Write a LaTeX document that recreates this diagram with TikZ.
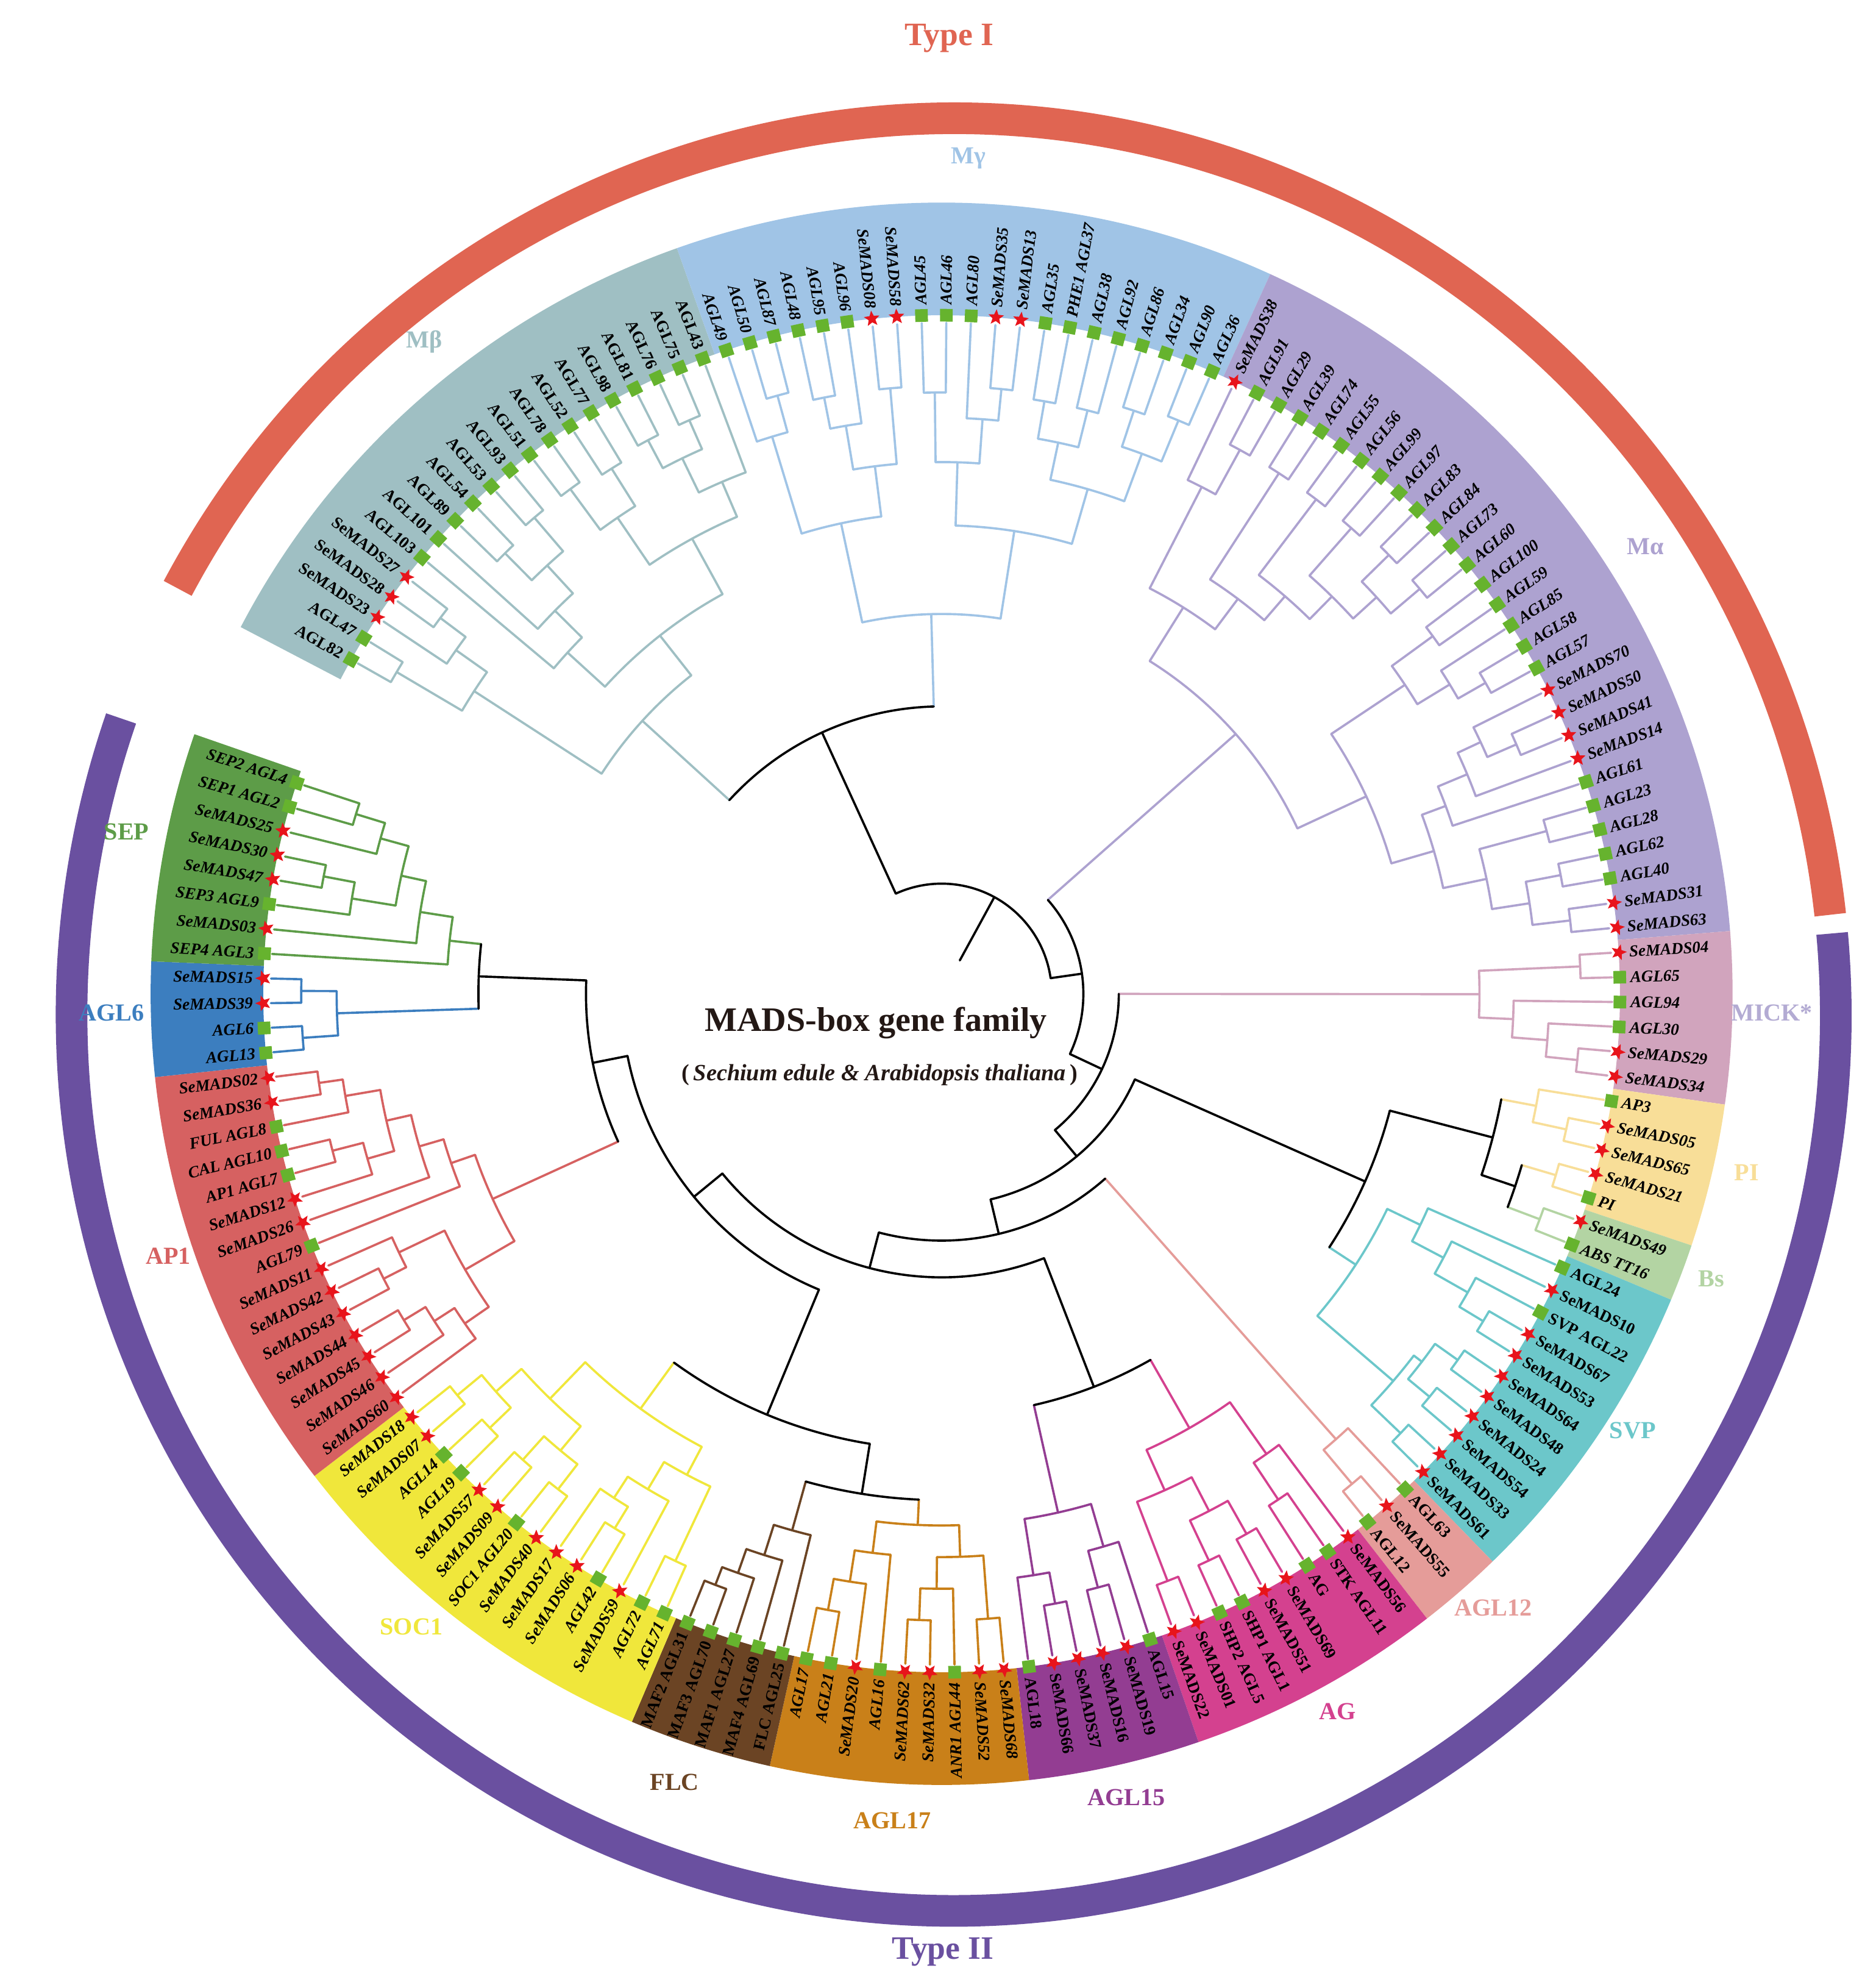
\documentclass[tikz,border=0pt]{standalone}
\usepackage{fontspec}
\setmainfont{Liberation Serif}
\usetikzlibrary{shapes.geometric}

% group colours
\definecolor{cMb}{HTML}{9FBFC3}
\definecolor{cMg}{HTML}{A0C4E6}
\definecolor{cMa}{HTML}{ADA2D0}
\definecolor{cMick}{HTML}{D1A4BD}
\definecolor{cPI}{HTML}{F8DE98}
\definecolor{cBs}{HTML}{B3D4A3}
\definecolor{cSVP}{HTML}{6CC7CA}
\definecolor{cAGLt}{HTML}{E59C99}
\definecolor{cAG}{HTML}{D4418F}
\definecolor{cAGLf}{HTML}{933D92}
\definecolor{cAGLs}{HTML}{C98019}
\definecolor{cFLC}{HTML}{6B4424}
\definecolor{cSOC}{HTML}{F0E73B}
\definecolor{cAP}{HTML}{D66161}
\definecolor{cAGLx}{HTML}{3C7EBF}
\definecolor{cSEP}{HTML}{5D9C48}
\definecolor{cMickT}{HTML}{B3ABD3}
\definecolor{typeone}{HTML}{E06552}
\definecolor{typetwo}{HTML}{6A50A0}
\definecolor{mkgreen}{HTML}{66B32E}
\definecolor{mkred}{HTML}{E8141B}
\definecolor{titlecol}{HTML}{231815}

\newcommand\ux{0.02cm}

\tikzset{
  branch/.style={line width=1pt, line cap=round},
  lab/.style={inner sep=0pt, font=\fontsize{7.4}{8}\selectfont\bfseries},
  sqmark/.style={rectangle, fill=mkgreen, minimum size=0.2cm, inner sep=0pt},
  starmark/.style={star, star points=5, star point ratio=2.3, fill=mkred, minimum size=0.26cm, inner sep=0pt},
  grouplab/.style={font=\fontsize{11}{12}\selectfont\bfseries},
  typelab/.style={font=\fontsize{14.7}{16}\selectfont\bfseries},
  typearc/.style={line width=0.5cm}
}

% leaf: index, label, marker (s = square, t = star)
\newcommand\leaf[3]{%
  \pgfmathsetmacro\la{150.5-2.1*#1}%
  \expandafter\xdef\csname tp@#1\endcsname{#1}%
  \expandafter\xdef\csname tr@#1\endcsname{530}%
  \expandafter\xdef\csname tc@#1\endcsname{\gc}%
  \if#3s\node[sqmark, rotate=\la] (lf#1) at (\la:536) {};%
  \else\node[starmark, rotate=\la-90] (lf#1) at (\la:536) {};\fi
  \ifnum#1<28 \node[lab, anchor=east, rotate=\la+180] at (\la:544) {\gf #2};%
  \else\ifnum#1>113 \node[lab, anchor=east, rotate=\la+180] at (\la:544) {\gf #2};%
  \else\node[lab, anchor=west, rotate=\la] at (\la:544) {\gf #2};\fi\fi}

% inner node: name, child a, child b, radius, colour
\newcommand\nd[5]{%
  \edef\ndpa{\csname tp@#2\endcsname}\edef\ndpb{\csname tp@#3\endcsname}%
  \edef\ndra{\csname tr@#2\endcsname}\edef\ndrb{\csname tr@#3\endcsname}%
  \edef\ndca{\csname tc@#2\endcsname}\edef\ndcb{\csname tc@#3\endcsname}%
  \pgfmathsetmacro\nda{150.5-2.1*\ndpa}%
  \pgfmathsetmacro\ndb{150.5-2.1*\ndpb}%
  \pgfmathsetmacro\ndp{(\ndpa+\ndpb)/2}%
  \draw[branch,\ndca] (\nda:#4) -- (\nda:\ndra);
  \draw[branch,\ndcb] (\ndb:#4) -- (\ndb:\ndrb);
  \draw[branch,#5] (\nda:#4) arc[start angle=\nda, end angle=\ndb, radius=#4*\ux];
  \expandafter\xdef\csname tp@#1\endcsname{\ndp}%
  \expandafter\xdef\csname tr@#1\endcsname{#4}%
  \expandafter\xdef\csname tc@#1\endcsname{#5}}

% coloured sector behind the labels
\newcommand\band[3]{%
  \pgfmathsetmacro\bda{150.5-2.1*(#1-0.5)}%
  \pgfmathsetmacro\bdb{150.5-2.1*(#2+0.5)}%
  \fill[#3] (\bda:536) arc[start angle=\bda, end angle=\bdb, radius=536*\ux]
    -- (\bdb:625) arc[start angle=\bdb, end angle=\bda, radius=625*\ux] -- cycle;}

\begin{document}
\begin{tikzpicture}[x=\ux, y=\ux]
\fill[white] (-744,-783) rectangle (738,785);
\useasboundingbox (-744,-783) rectangle (738,785);

% outer type arcs
\begin{scope}[shift={(9.5,-16.5)}]
  \draw[typearc, typeone] (151.6:697 and 708) arc[start angle=151.6, end angle=6.4, x radius=697*\ux, y radius=708*\ux];
  \draw[typearc, typetwo] (5.2:697 and 708) arc[start angle=5.2, end angle=-199.3, x radius=697*\ux, y radius=708*\ux];
\end{scope}
\node[typelab, text=typeone] (typeI) at (6,755) {Type I};
\node[typelab, text=typetwo] (typeII) at (1,-757) {Type II};

% sectors
\band{-0.4}{19}{cMb}
\band{20}{40}{cMg}
\band{41}{69}{cMa}
\band{70}{75}{cMick}
\band{76}{80}{cPI}
\band{81}{82}{cBs}
\band{83}{93}{cSVP}
\band{94}{96}{cAGLt}
\band{97}{105}{cAG}
\band{106}{111}{cAGLf}
\band{112}{120}{cAGLs}
\band{121}{125}{cFLC}
\band{126}{139}{cSOC}
\band{140}{154}{cAP}
\band{155}{158}{cAGLx}
\band{159}{166}{cSEP}

% leaves
\def\gc{cMb}\def\gf{\upshape}
\foreach \lab/\mk [count=\k from 0] in {AGL82/s,AGL47/s,SeMADS23/t,SeMADS28/t,SeMADS27/t,AGL103/s,AGL101/s,AGL89/s,AGL54/s,AGL53/s,AGL93/s,AGL51/s,AGL78/s,AGL52/s,AGL77/s,AGL98/s,AGL81/s,AGL76/s,AGL75/s,AGL43/s}{\leaf{\k}{\lab}{\mk}}
\def\gc{cMg}\def\gf{\itshape}
\foreach \lab/\mk [count=\k from 20] in {AGL49/s,AGL50/s,AGL87/s,AGL48/s,AGL95/s,AGL96/s,SeMADS08/t,SeMADS58/t,AGL45/s,AGL46/s,AGL80/s,SeMADS35/t,SeMADS13/t,AGL35/s,PHE1 AGL37/s,AGL38/s,AGL92/s,AGL86/s,AGL34/s,AGL90/s,AGL36/s}{\leaf{\k}{\lab}{\mk}}
\def\gc{cMa}
\foreach \lab/\mk [count=\k from 41] in {SeMADS38/t,AGL91/s,AGL29/s,AGL39/s,AGL74/s,AGL55/s,AGL56/s,AGL99/s,AGL97/s,AGL83/s,AGL84/s,AGL73/s,AGL60/s,AGL100/s,AGL59/s,AGL85/s,AGL58/s,AGL57/s,SeMADS70/t,SeMADS50/t,SeMADS41/t,SeMADS14/t,AGL61/s,AGL23/s,AGL28/s,AGL62/s,AGL40/s,SeMADS31/t,SeMADS63/t}{\leaf{\k}{\lab}{\mk}}
\def\gc{cMick}
\foreach \lab/\mk [count=\k from 70] in {SeMADS04/t,AGL65/s,AGL94/s,AGL30/s,SeMADS29/t,SeMADS34/t}{\leaf{\k}{\lab}{\mk}}
\def\gc{cPI}
\foreach \lab/\mk [count=\k from 76] in {AP3/s,SeMADS05/t,SeMADS65/t,SeMADS21/t,PI/s}{\leaf{\k}{\lab}{\mk}}
\def\gc{cBs}
\foreach \lab/\mk [count=\k from 81] in {SeMADS49/t,ABS TT16/s}{\leaf{\k}{\lab}{\mk}}
\def\gc{cSVP}\def\gf{\upshape}
\foreach \lab/\mk [count=\k from 83] in {AGL24/s,SeMADS10/t,SVP AGL22/s,SeMADS67/t,SeMADS53/t,SeMADS64/t,SeMADS48/t,SeMADS24/t,SeMADS54/t,SeMADS33/t,SeMADS61/t}{\leaf{\k}{\lab}{\mk}}
\def\gc{cAGLt}
\foreach \lab/\mk [count=\k from 94] in {AGL63/s,SeMADS55/t,AGL12/s}{\leaf{\k}{\lab}{\mk}}
\def\gc{cAG}
\foreach \lab/\mk [count=\k from 97] in {SeMADS56/t,STK AGL11/s,AG/s,SeMADS69/t,SeMADS51/t,SHP1 AGL1/s,SHP2 AGL5/s,SeMADS01/t,SeMADS22/t}{\leaf{\k}{\lab}{\mk}}
\def\gc{cAGLf}
\foreach \lab/\mk [count=\k from 106] in {AGL15/s,SeMADS19/t,SeMADS16/t,SeMADS37/t,SeMADS66/t,AGL18/s}{\leaf{\k}{\lab}{\mk}}
\def\gc{cAGLs}\def\gf{\itshape}
\foreach \lab/\mk [count=\k from 112] in {SeMADS68/t,SeMADS52/t,ANR1 AGL44/s,SeMADS32/t,SeMADS62/t,AGL16/s,SeMADS20/t,AGL21/s,AGL17/s}{\leaf{\k}{\lab}{\mk}}
\def\gc{cFLC}\def\gf{\upshape}
\foreach \lab/\mk [count=\k from 121] in {FLC AGL25/s,MAF4 AGL69/s,MAF1 AGL27/s,MAF3 AGL70/s,MAF2 AGL31/s}{\leaf{\k}{\lab}{\mk}}
\def\gc{cSOC}\def\gf{\itshape}
\foreach \lab/\mk [count=\k from 126] in {AGL71/s,AGL72/s,SeMADS59/t,AGL42/s,SeMADS06/t,SeMADS17/t,SeMADS40/t,SOC1 AGL20/s,SeMADS09/t,SeMADS57/t,AGL19/s,AGL14/s,SeMADS07/t,SeMADS18/t}{\leaf{\k}{\lab}{\mk}}
\def\gc{cAP}
\foreach \lab/\mk [count=\k from 140] in {SeMADS60/t,SeMADS46/t,SeMADS45/t,SeMADS44/t,SeMADS43/t,SeMADS42/t,SeMADS11/t,AGL79/s,SeMADS26/t,SeMADS12/t,AP1 AGL7/s,CAL AGL10/s,FUL AGL8/s,SeMADS36/t,SeMADS02/t}{\leaf{\k}{\lab}{\mk}}
\def\gc{cAGLx}
\foreach \lab/\mk [count=\k from 155] in {AGL13/s,AGL6/s,SeMADS39/t,SeMADS15/t}{\leaf{\k}{\lab}{\mk}}
\def\gc{cSEP}
\foreach \lab/\mk [count=\k from 159] in {SEP4 AGL3/s,SeMADS03/t,SEP3 AGL9/s,SeMADS47/t,SeMADS30/t,SeMADS25/t,SEP1 AGL2/s,SEP2 AGL4/s}{\leaf{\k}{\lab}{\mk}}

% M-beta
\nd{b1}{0}{1}{500}{cMb}
\nd{b2}{3}{4}{495}{cMb}
\nd{b3}{2}{b2}{470}{cMb}
\nd{b4}{b1}{b3}{440}{cMb}
\nd{b5}{7}{8}{490}{cMb}
\nd{b6}{9}{10}{495}{cMb}
\nd{b7}{b5}{b6}{460}{cMb}
\nd{b8}{6}{b7}{430}{cMb}
\nd{b9}{5}{b8}{400}{cMb}
\nd{b10}{11}{12}{495}{cMb}
\nd{b11}{13}{14}{490}{cMb}
\nd{b12}{b10}{b11}{455}{cMb}
\nd{b13}{15}{16}{495}{cMb}
\nd{b14}{17}{18}{495}{cMb}
\nd{b15}{b13}{b14}{470}{cMb}
\nd{b16}{b15}{19}{440}{cMb}
\nd{b17}{b12}{b16}{410}{cMb}
\nd{b18}{b9}{b17}{360}{cMb}
\nd{b19}{b4}{b18}{320}{cMb}
% M-gamma
\nd{g1}{21}{22}{490}{cMg}
\nd{g2}{20}{g1}{460}{cMg}
\nd{g3}{23}{24}{480}{cMg}
\nd{g4}{g3}{25}{455}{cMg}
\nd{g5}{26}{27}{480}{cMg}
\nd{g6}{g4}{g5}{420}{cMg}
\nd{g7}{g2}{g6}{380}{cMg}
\nd{g8}{28}{29}{475}{cMg}
\nd{g9}{31}{32}{480}{cMg}
\nd{g10}{30}{g9}{455}{cMg}
\nd{g11}{g8}{g10}{420}{cMg}
\nd{g12}{33}{34}{475}{cMg}
\nd{g13}{35}{36}{475}{cMg}
\nd{g14}{g12}{g13}{445}{cMg}
\nd{g15}{37}{38}{485}{cMg}
\nd{g16}{39}{40}{490}{cMg}
\nd{g17}{g15}{g16}{455}{cMg}
\nd{g18}{g14}{g17}{415}{cMg}
\nd{g19}{g11}{g18}{370}{cMg}
\nd{g20}{g7}{g19}{300}{cMg}
% M-alpha
\nd{a1}{42}{43}{490}{cMa}
\nd{a2}{41}{a1}{450}{cMa}
\nd{a3}{44}{45}{490}{cMa}
\nd{a4}{46}{47}{490}{cMa}
\nd{a5}{48}{49}{490}{cMa}
\nd{a6}{50}{51}{495}{cMa}
\nd{a7}{52}{53}{495}{cMa}
\nd{a8}{a6}{a7}{465}{cMa}
\nd{a9}{a5}{a8}{440}{cMa}
\nd{a10}{a4}{a9}{415}{cMa}
\nd{a11}{a3}{a10}{390}{cMa}
\nd{a12}{a2}{a11}{360}{cMa}
\nd{a13}{54}{55}{480}{cMa}
\nd{a14}{57}{58}{495}{cMa}
\nd{a15}{56}{a14}{470}{cMa}
\nd{a16}{a13}{a15}{440}{cMa}
\nd{a17}{60}{61}{495}{cMa}
\nd{a18}{59}{a17}{470}{cMa}
\nd{a19}{a18}{62}{450}{cMa}
\nd{a20}{a19}{63}{425}{cMa}
\nd{a21}{64}{65}{495}{cMa}
\nd{a22}{66}{67}{498}{cMa}
\nd{a23}{68}{69}{500}{cMa}
\nd{a24}{a22}{a23}{470}{cMa}
\nd{a25}{a21}{a24}{440}{cMa}
\nd{a26}{a20}{a25}{405}{cMa}
\nd{a27}{a16}{a26}{370}{cMa}
\nd{a28}{a12}{a27}{310}{cMa}
% MICK
\nd{m1}{70}{71}{505}{cMick}
\nd{m2}{74}{75}{505}{cMick}
\nd{m3}{73}{m2}{480}{cMick}
\nd{m4}{72}{m3}{452}{cMick}
\nd{m5}{m1}{m4}{425}{cMick}
% B class
\nd{p1}{77}{78}{505}{cPI}
\nd{p2}{76}{p1}{478}{cPI}
\nd{p3}{79}{80}{506}{cPI}
\nd{p4}{81}{82}{505}{cBs}
\nd{p5}{p3}{p4}{478}{black}
\nd{p6}{p2}{p5}{450}{black}
% SVP
\nd{s1}{86}{87}{500}{cSVP}
\nd{s2}{85}{s1}{478}{cSVP}
\nd{s3}{84}{s2}{448}{cSVP}
\nd{s4}{83}{s3}{420}{cSVP}
\nd{s5}{88}{89}{500}{cSVP}
\nd{s6}{90}{91}{500}{cSVP}
\nd{s7}{s5}{s6}{478}{cSVP}
\nd{s8}{92}{93}{502}{cSVP}
\nd{s9}{s7}{s8}{470}{cSVP}
\nd{s10}{s4}{s9}{391}{cSVP}
\nd{bsv}{p6}{s10}{366}{black}
% AGL12
\nd{t1}{95}{96}{505}{cAGLt}
\nd{t2}{94}{t1}{470}{cAGLt}
% AG
\nd{h1}{98}{99}{480}{cAG}
\nd{h2}{97}{h1}{445}{cAG}
\nd{h3}{100}{101}{490}{cAG}
\nd{h4}{102}{103}{495}{cAG}
\nd{h5}{h3}{h4}{460}{cAG}
\nd{h6}{104}{105}{497}{cAG}
\nd{h7}{h5}{h6}{430}{cAG}
\nd{h8}{h2}{h7}{395}{cAG}
% AGL15
\nd{f1}{107}{108}{485}{cAGLf}
\nd{f2}{106}{f1}{455}{cAGLf}
\nd{f3}{109}{110}{490}{cAGLf}
\nd{f4}{f3}{111}{465}{cAGLf}
\nd{f5}{f2}{f4}{420}{cAGLf}
\nd{q1}{h8}{f5}{333}{black}
% AGL17
\nd{k1}{112}{113}{495}{cAGLs}
\nd{k2}{115}{116}{495}{cAGLs}
\nd{k3}{114}{k2}{470}{cAGLs}
\nd{k4}{k3}{k1}{445}{cAGLs}
\nd{k5}{119}{120}{495}{cAGLs}
\nd{k6}{118}{k5}{470}{cAGLs}
\nd{k7}{117}{k6}{445}{cAGLs}
\nd{k8}{k7}{k4}{420}{cAGLs}
% FLC
\nd{l1}{124}{125}{500}{cFLC}
\nd{l2}{123}{l1}{485}{cFLC}
\nd{l3}{122}{l2}{465}{cFLC}
\nd{l4}{121}{l3}{440}{cFLC}
\nd{fa}{k8}{l4}{400}{black}
% SOC1
\nd{o1}{126}{127}{495}{cSOC}
\nd{o2}{129}{130}{495}{cSOC}
\nd{o3}{131}{o2}{475}{cSOC}
\nd{o4}{128}{o3}{455}{cSOC}
\nd{o5}{o1}{o4}{430}{cSOC}
\nd{o6}{132}{133}{495}{cSOC}
\nd{o7}{134}{135}{495}{cSOC}
\nd{o8}{o7}{o6}{470}{cSOC}
\nd{o9}{136}{137}{495}{cSOC}
\nd{o10}{138}{139}{497}{cSOC}
\nd{o11}{o10}{o9}{472}{cSOC}
\nd{o12}{o11}{o8}{445}{cSOC}
\nd{o13}{o12}{o5}{405}{cSOC}
\nd{u1}{o13}{fa}{360}{black}
% AP1
\nd{r1}{153}{154}{497}{cAP}
\nd{r2}{152}{r1}{478}{cAP}
\nd{r3}{150}{151}{497}{cAP}
\nd{r4}{149}{r3}{472}{cAP}
\nd{r5}{r2}{r4}{450}{cAP}
\nd{r6}{148}{r5}{430}{cAP}
\nd{r7}{147}{r6}{410}{cAP}
\nd{r8}{144}{145}{495}{cAP}
\nd{r9}{146}{r8}{475}{cAP}
\nd{r10}{142}{143}{497}{cAP}
\nd{r11}{141}{r10}{477}{cAP}
\nd{r12}{140}{r11}{458}{cAP}
\nd{r13}{r9}{r12}{435}{cAP}
\nd{r14}{r7}{r13}{390}{cAP}
% AGL6 and SEP
\nd{c1}{155}{156}{506}{cAGLx}
\nd{c2}{157}{158}{506}{cAGLx}
\nd{c3}{c1}{c2}{478}{cAGLx}
\nd{e1}{165}{166}{484}{cSEP}
\nd{e2}{164}{e1}{460}{cSEP}
\nd{e3}{162}{163}{497}{cSEP}
\nd{e4}{161}{e3}{472}{cSEP}
\nd{e5}{e4}{e2}{437}{cSEP}
\nd{e6}{160}{e5}{417}{cSEP}
\nd{e7}{159}{e6}{391}{cSEP}
\nd{se}{c3}{e7}{366}{black}
% backbone
\nd{u2}{r14}{se}{281}{black}
\nd{u}{u1}{u2}{253}{black}
\nd{v}{q1}{u}{224}{black}
\nd{w}{t2}{v}{195}{black}
\nd{z}{bsv}{w}{167}{black}
\nd{y}{m5}{z}{140}{black}
\nd{x}{a28}{y}{112}{black}
\nd{t}{b19}{g20}{227}{black}
\nd{root}{t}{x}{87}{black}
\edef\rtp{\csname tp@root\endcsname}
\pgfmathsetmacro\rta{150.5-2.1*\rtp}
\draw[branch] (\rta:30) -- (\rta:87);

% group names
\node[grouplab, text=cMb] (gMb) at (-409,515) {Mβ};
\node[grouplab, text=cMg] (gMg) at (21,660) {Mγ};
\node[grouplab, text=cMa] (gMa) at (556,353) {Mα};
\node[grouplab, text=cMickT] (gMick) at (656,-15) {MICK*};
\node[grouplab, text=cPI] (gPI) at (636,-141) {PI};
\node[grouplab, text=cBs] (gBs) at (608,-225) {Bs};
\node[grouplab, text=cSVP] (gSVP) at (546,-345) {SVP};
\node[grouplab, text=cAGLt] (gAGLt) at (436,-485) {AGL12};
\node[grouplab, text=cAG] (gAG) at (313,-567) {AG};
\node[grouplab, text=cAGLf] (gAGLf) at (146,-635) {AGL15};
\node[grouplab, text=cAGLs] (gAGLs) at (-39,-653) {AGL17};
\node[grouplab, text=cFLC] (gFLC) at (-211,-623) {FLC};
\node[grouplab, text=cSOC] (gSOC) at (-419,-500) {SOC1};
\node[grouplab, text=cAP] (gAP) at (-611,-207) {AP1};
\node[grouplab, text=cAGLx] (gAGLx) at (-656,-15) {AGL6};
\node[grouplab, text=cSEP] (gSEP) at (-644,128) {SEP};

% title
\node[font=\fontsize{15.4}{17}\selectfont\bfseries, text=titlecol] (title) at (-52,-23) {MADS-box gene family};
\node[font=\fontsize{10.5}{12}\selectfont\bfseries, text=titlecol] (subtitle) at (-49,-64) {(\,\textit{Sechium edule \& Arabidopsis thaliana}\,)};
\end{tikzpicture}
\end{document}
